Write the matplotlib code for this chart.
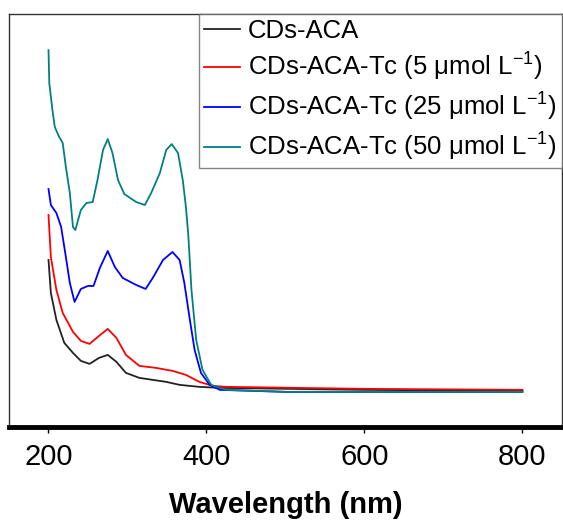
import matplotlib
matplotlib.use('Agg')
import matplotlib.pyplot as plt

plt.rcParams['font.family'] = ['Liberation Sans', 'DejaVu Sans']
plt.rcParams['mathtext.fontset'] = 'custom'
plt.rcParams['mathtext.rm'] = 'Liberation Sans'
plt.rcParams['mathtext.it'] = 'Liberation Sans:italic'

# UV-vis spectra (absorbance, a.u.)
wl_aca = [200, 203, 210, 220, 231, 241, 252, 264, 275, 286, 298, 315, 332, 349, 366, 391, 416, 600, 800]
abs_aca = [1.67, 1.34, 1.07, 0.84, 0.74, 0.66, 0.63, 0.69, 0.72, 0.65, 0.54, 0.49, 0.47, 0.45, 0.42, 0.40, 0.39, 0.37, 0.36]

wl_tc5 = [200, 203, 210, 218, 231, 241, 252, 264, 275, 286, 298, 315, 336, 357, 374, 391, 408, 425, 600, 800]
abs_tc5 = [2.12, 1.70, 1.37, 1.14, 0.95, 0.86, 0.83, 0.91, 0.98, 0.89, 0.72, 0.61, 0.59, 0.56, 0.52, 0.45, 0.41, 0.40, 0.38, 0.37]

wl_tc25 = [200, 203, 210, 216, 222, 227, 233, 241, 250, 257, 265, 275, 284, 294, 311, 323, 332,
           345, 357, 366, 372, 379, 385, 393, 404, 417, 500, 800]
abs_tc25 = [2.38, 2.22, 2.14, 2.00, 1.70, 1.44, 1.25, 1.38, 1.41, 1.41, 1.59, 1.76, 1.60, 1.49, 1.42, 1.38, 1.49,
            1.67, 1.75, 1.67, 1.44, 1.07, 0.77, 0.54, 0.42, 0.37, 0.35, 0.35]

wl_tc50 = [200, 201, 205, 208, 213, 218, 222, 227, 231, 234, 241, 248, 256, 262, 269, 275, 281, 288, 296,
           311, 322, 330, 341, 349, 356, 364, 370, 374, 377, 381, 387, 395, 406, 425, 500, 800]
abs_tc50 = [3.77, 3.44, 3.17, 3.00, 2.91, 2.84, 2.60, 2.34, 2.00, 1.97, 2.17, 2.24, 2.25, 2.47, 2.77, 2.88, 2.74, 2.47, 2.33,
            2.25, 2.22, 2.34, 2.54, 2.77, 2.83, 2.74, 2.47, 2.20, 1.92, 1.37, 0.87, 0.57, 0.42, 0.37, 0.35, 0.35]

labels = ['CDs-ACA',
          'CDs-ACA-Tc (5 μmol L$^{-1}$)',
          'CDs-ACA-Tc (25 μmol L$^{-1}$)',
          'CDs-ACA-Tc (50 μmol L$^{-1}$)']

fig = plt.figure(figsize=(5.63, 5.25), dpi=100)
ax = fig.add_axes([0.016, 0.187, 0.982, 0.786])

ax.plot(wl_aca, abs_aca, color='#222222', lw=1.3, label=labels[0])
ax.plot(wl_tc5, abs_tc5, color='#ff0000', lw=1.3, label=labels[1])
ax.plot(wl_tc25, abs_tc25, color='#0000ff', lw=1.3, label=labels[2])
ax.plot(wl_tc50, abs_tc50, color='#008080', lw=1.3, label=labels[3])

ax.set_xlim(150, 850)
ax.set_ylim(0, 4.13)
ax.set_xticks([200, 400, 600, 800])
ax.set_yticks([])
ax.tick_params(axis='x', direction='out', length=4, width=1, pad=8, labelsize=21)

for s in ['left', 'right', 'top']:
    ax.spines[s].set_linewidth(1.0)
    ax.spines[s].set_color('#333333')
ax.spines['bottom'].set_linewidth(3.5)

ax.set_xlabel('Wavelength (nm)', fontsize=21, fontweight='bold', labelpad=14)

leg = ax.legend(loc='upper right', fontsize=18.5, frameon=True, fancybox=False,
                edgecolor='#666666', borderaxespad=0, handlelength=1.4,
                handletextpad=0.3, labelspacing=0.3, borderpad=0.2)
leg.get_frame().set_linewidth(1.0)

fig.savefig('out.png', dpi=100)
